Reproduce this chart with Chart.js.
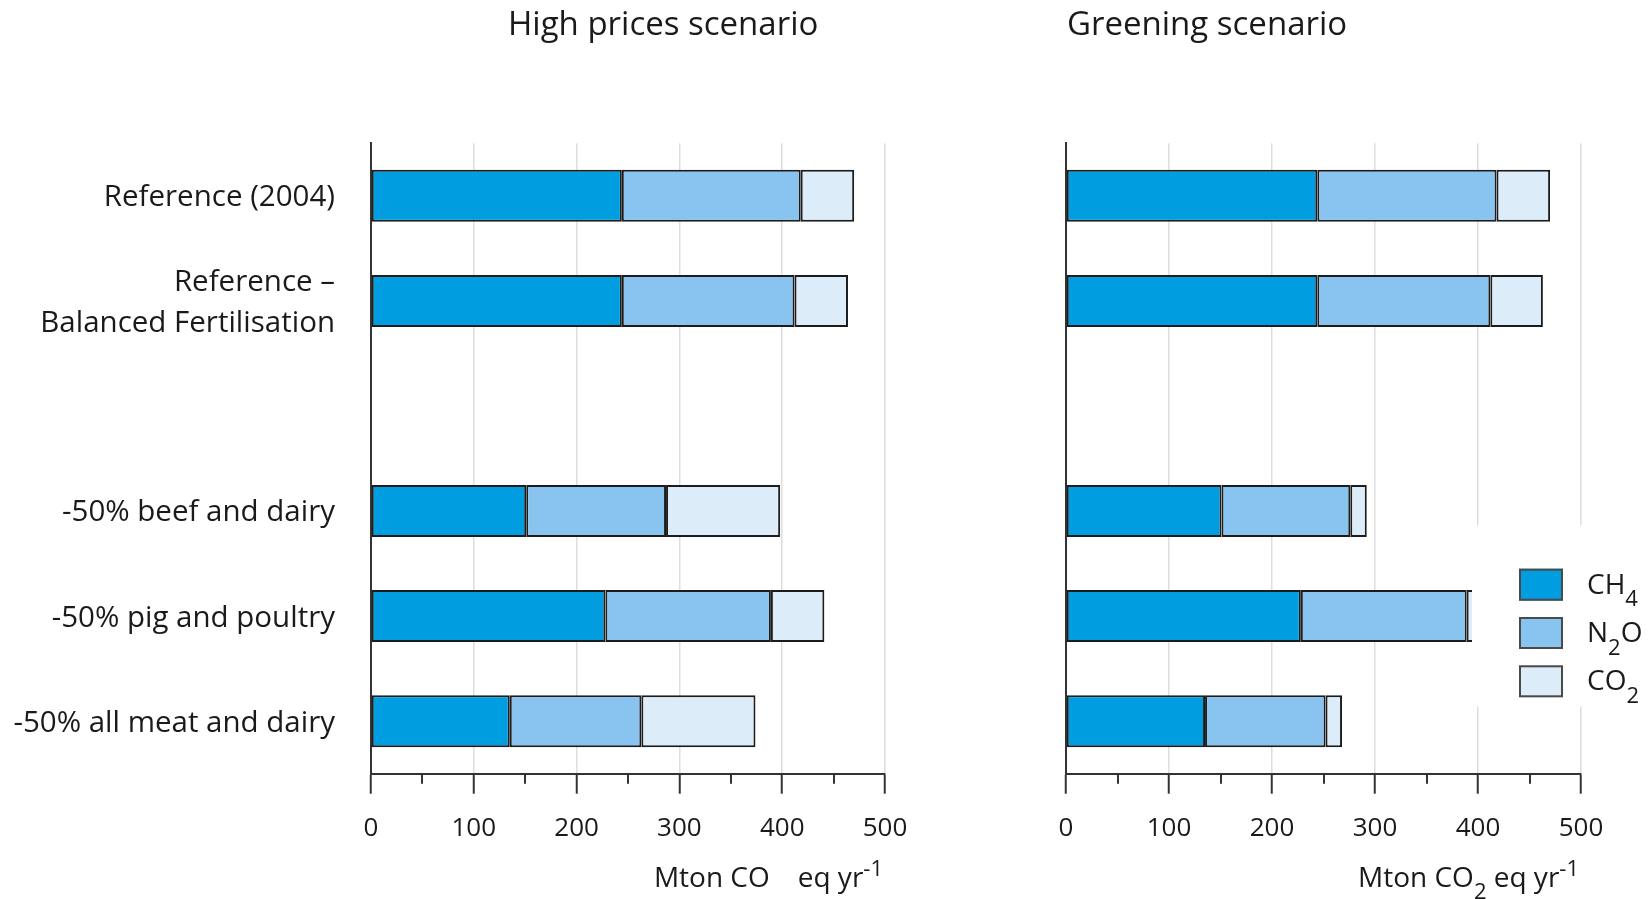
<!DOCTYPE html>
<html>
<head>
<meta charset="utf-8">
<script src="https://cdn.jsdelivr.net/npm/chart.js@4.4.1/dist/chart.umd.min.js"></script>
<style>
  html, body { margin: 0; padding: 0; background: #ffffff; }
  #wrap { position: relative; width: 1649px; height: 899px; overflow: hidden; }
  .panel { position: absolute; top: 0; }
</style>
</head>
<body>
<div id="wrap">
  <div class="panel" style="left:0px"><canvas id="highPrices" width="960" height="899"></canvas></div>
  <div class="panel" style="left:960px"><canvas id="greening" width="689" height="899"></canvas></div>
</div>
<script>
// Livestock scenarios (the third slot is an intentional gap between the groups)
const categories = [
  'Reference (2004)',
  ['Reference \u2013', 'Balanced Fertilisation'],
  '',
  '-50% beef and dairy',
  '-50% pig and poultry',
  '-50% all meat and dairy'
];

const gases = ['CH4', 'N2O', 'CO2'];

// Emissions, Mton CO2 eq per year — High prices scenario
const highCH4 = [244, 244, null, 151, 228, 135];
const highN2O = [174, 168, null, 136, 161, 128];
const highCO2 = [52, 52, null, 111, 52, 111];

// Emissions, Mton CO2 eq per year — Greening scenario
const greenCH4 = [244, 244, null, 151, 228, 135];
const greenN2O = [174, 168, null, 125, 161, 117];
const greenCO2 = [52, 51, null, 16, 30, 16];

const xMin = 0, xMax = 500, xMajorStep = 100, xMinorStep = 50;

const gasColors = ['#009ee0', '#88c4ef', '#dcecf9'];
const edgeColor = '#1c1c1c';
const inkColor = '#1a1a1a';
const fontFamily = "'Open Sans', 'Noto Sans', sans-serif";

Chart.defaults.font.family = fontFamily;
Chart.defaults.color = inkColor;

// Draws text where digits become subscripts, or parts tagged as sub/sup
function richParts(str) {
  const parts = [];
  for (const ch of str) {
    const kind = /[0-9]/.test(ch) ? 'sub' : 'n';
    const last = parts[parts.length - 1];
    if (last && last.kind === kind) last.t += ch; else parts.push({ t: ch, kind });
  }
  return parts;
}
function drawRich(ctx, parts, x, baseline, align, size) {
  const small = Math.round(size * 0.78);
  const fontFor = k => (k === 'n' ? size : small) + 'px ' + fontFamily;
  let total = 0;
  for (const p of parts) { ctx.font = fontFor(p.kind); total += ctx.measureText(p.t).width; }
  let cx = align === 'right' ? x - total : x;
  ctx.textBaseline = 'alphabetic';
  ctx.textAlign = 'left';
  for (const p of parts) {
    ctx.font = fontFor(p.kind);
    const dy = p.kind === 'sub' ? size * 0.45 : p.kind === 'sup' ? -size * 0.4 : 0;
    ctx.fillText(p.t, cx, baseline + dy);
    cx += ctx.measureText(p.t).width;
  }
}

// Panel heading above the plot
function headingPlugin(text, dx) {
  return {
    id: 'panelHeading',
    afterDraw(chart) {
      const { ctx, chartArea } = chart;
      ctx.save();
      ctx.fillStyle = inkColor;
      ctx.font = '33px ' + fontFamily;
      ctx.textAlign = 'left';
      ctx.textBaseline = 'middle';
      ctx.fillText(text, chartArea.left + dx, 26);
      ctx.restore();
    }
  };
}

// Unit label under the x axis, right aligned with the axis end
function unitPlugin(parts) {
  return {
    id: 'unitLabel',
    afterDraw(chart) {
      const { ctx, chartArea } = chart;
      ctx.save();
      ctx.fillStyle = inkColor;
      drawRich(ctx, parts, chartArea.right - 2, chartArea.bottom + 113, 'right', 28);
      ctx.restore();
    }
  };
}

// Short ticks halfway between the labelled ones
const minorTicks = {
  id: 'minorTicks',
  afterDraw(chart) {
    const { ctx, chartArea, scales } = chart;
    ctx.save();
    ctx.strokeStyle = '#333333';
    ctx.lineWidth = 2;
    for (let v = xMin + xMinorStep; v < xMax; v += xMajorStep) {
      const px = Math.round(scales.x.getPixelForValue(v));
      ctx.beginPath();
      ctx.moveTo(px, chartArea.bottom);
      ctx.lineTo(px, chartArea.bottom + 10);
      ctx.stroke();
    }
    ctx.restore();
  }
};

// Gas key drawn on a white panel over the lower right of the plot
const gasKey = {
  id: 'gasKey',
  afterDraw(chart) {
    const { ctx, chartArea } = chart;
    ctx.save();
    ctx.fillStyle = '#ffffff';
    ctx.fillRect(chartArea.right - 109, chartArea.bottom - 248, 240, 181);
    chart.data.datasets.forEach((ds, i) => {
      const bx = chartArea.right - 62;
      const by = chartArea.bottom - 205 + i * 48.3;
      ctx.fillStyle = ds.backgroundColor;
      ctx.fillRect(bx, by, 44, 32);
      ctx.strokeStyle = '#4a4a4a';
      ctx.lineWidth = 2;
      ctx.strokeRect(bx + 1, by + 1, 42, 30);
      ctx.fillStyle = inkColor;
      drawRich(ctx, richParts(ds.label), chartArea.right + 6, by + 25, 'left', 28);
    });
    ctx.restore();
  }
};

function makeDatasets(values) {
  return values.map((data, i) => ({
    label: gases[i],
    data,
    backgroundColor: gasColors[i],
    borderColor: edgeColor,
    borderWidth: 2,
    borderSkipped: false,
    barPercentage: 0.495,
    categoryPercentage: 1
  }));
}

function makeOptions(showLabels, yWidth, rightPad) {
  return {
    indexAxis: 'y',
    responsive: false,
    animation: false,
    layout: { padding: { top: 143.3, right: rightPad, bottom: 0, left: 0 } },
    plugins: { legend: { display: false }, title: { display: false } },
    scales: {
      x: {
        stacked: true,
        min: xMin,
        max: xMax,
        afterFit: s => { s.height = 899 - 773.7; },
        ticks: {
          stepSize: xMajorStep,
          padding: 19,
          color: inkColor,
          font: { size: 26 }
        },
        grid: {
          color: c => (c.tick && c.tick.value === xMin ? 'rgba(0,0,0,0)' : '#dedede'),
          lineWidth: 1.5,
          tickColor: '#333333',
          tickWidth: 2,
          tickLength: 20
        },
        border: { display: true, color: '#333333', width: 2 }
      },
      y: {
        stacked: true,
        afterFit: s => { s.width = yWidth; },
        ticks: {
          display: showLabels,
          padding: 36,
          labelOffset: 2,
          color: inkColor,
          font: { size: 29.5, lineHeight: 1.39 }
        },
        grid: { display: false, drawTicks: false },
        border: { display: true, color: '#333333', width: 2 }
      }
    }
  };
}

new Chart(document.getElementById('highPrices'), {
  type: 'bar',
  data: { labels: categories, datasets: makeDatasets([highCH4, highN2O, highCO2]) },
  options: makeOptions(true, 371, 75),
  plugins: [
    headingPlugin('High prices scenario', 137),
    unitPlugin([{ t: 'Mton CO', kind: 'n' }, { t: '\u2002\u2002', kind: 'n' }, { t: 'eq yr', kind: 'n' }, { t: '-1', kind: 'sup' }]),
    minorTicks
  ]
});

new Chart(document.getElementById('greening'), {
  type: 'bar',
  data: { labels: categories, datasets: makeDatasets([greenCH4, greenN2O, greenCO2]) },
  options: makeOptions(false, 106, 68),
  plugins: [
    headingPlugin('Greening scenario', 1),
    unitPlugin([{ t: 'Mton CO', kind: 'n' }, { t: '2', kind: 'sub' }, { t: ' eq yr', kind: 'n' }, { t: '-1', kind: 'sup' }]),
    minorTicks,
    gasKey
  ]
});
</script>
</body>
</html>
